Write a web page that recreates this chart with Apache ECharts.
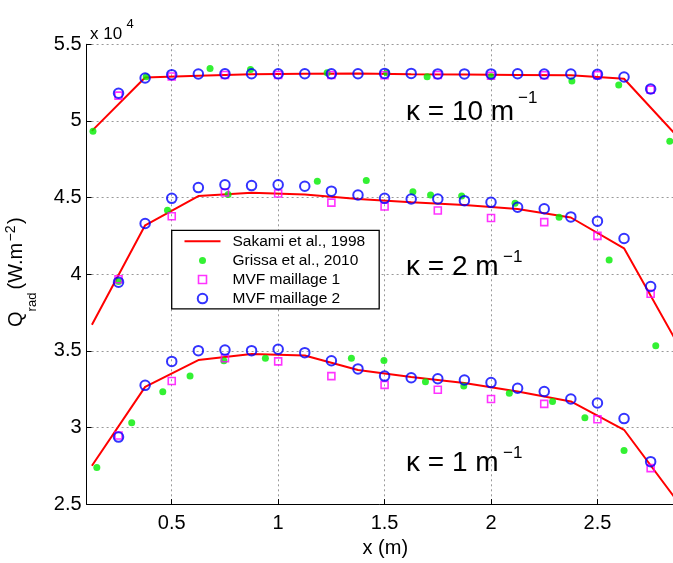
<!DOCTYPE html>
<html>
<head>
<meta charset="utf-8">
<script src="https://cdn.jsdelivr.net/npm/echarts@6/dist/echarts.min.js"></script>
<style>
html,body{margin:0;padding:0;background:#fff;}
#chart{width:673px;height:563px;}
</style>
</head>
<body>
<div id="chart"></div>
<script>
// ---- Data (Q_rad in W.m^-2) ----
const sakamiX = [0.125, 0.375, 0.625, 0.875, 1.125, 1.375, 1.625, 1.875, 2.125, 2.375, 2.625, 2.875];
const sakamiK10 = [49350, 52830, 52950, 53050, 53080, 53100, 53050, 53030, 53000, 52980, 52750, 49000];
const sakamiK2  = [36700, 43190, 45100, 45310, 45200, 44900, 44700, 44520, 44250, 43700, 41690, 35500];
const sakamiK1  = [27500, 32650, 34400, 34800, 34700, 33750, 33300, 32900, 32350, 31700, 29850, 25200];

const grissaK10X = [0.13, 0.38, 0.68, 0.87, 1.23, 1.51, 1.70, 2.00, 2.38, 2.60, 2.84];
const grissaK10  = [49320, 52890, 53420, 53360, 53150, 53150, 52890, 52890, 52610, 52340, 48680];
const grissaK2X  = [0.25, 0.48, 0.765, 1.184, 1.414, 1.633, 1.716, 1.862, 2.113, 2.32, 2.555, 2.774];
const grissaK2   = [39520, 44180, 45200, 46060, 46120, 45380, 45170, 45100, 44630, 43720, 40930, 35330];
const grissaK1X  = [0.148, 0.312, 0.458, 0.586, 0.745, 0.94, 1.344, 1.497, 1.692, 1.872, 2.086, 2.289, 2.441, 2.625];
const grissaK1   = [27390, 30310, 32330, 33350, 34350, 34520, 34520, 34370, 32990, 32710, 32240, 31690, 30640, 28500];

const mvf1X   = [0.25, 0.5, 0.75, 1.0, 1.25, 1.5, 1.75, 2.0, 2.25, 2.5, 2.75];
const mvf1K10 = [51650, 52900, 53000, 53000, 53000, 52980, 53000, 52950, 52980, 52990, 52040];
const mvf1K2  = [39670, 43780, 45330, 45270, 44670, 44420, 44160, 43670, 43400, 42500, 38720];
const mvf1K1  = [29480, 33030, 34520, 34310, 33350, 32780, 32460, 31860, 31540, 30540, 27350];

const mvf2X   = [0.25, 0.375, 0.5, 0.625, 0.75, 0.875, 1.0, 1.125, 1.25, 1.375, 1.5, 1.625, 1.75, 1.875, 2.0, 2.125, 2.25, 2.375, 2.5, 2.625, 2.75];
const mvf2K10 = [51810, 52800, 53020, 53060, 53080, 53080, 53080, 53080, 53080, 53080, 53100, 53100, 53070, 53070, 53070, 53080, 53060, 53060, 53040, 52870, 52080];
const mvf2K2  = [39480, 43310, 44950, 45650, 45840, 45780, 45840, 45740, 45420, 45170, 44950, 44910, 44910, 44800, 44690, 44370, 44270, 43740, 43460, 42330, 39200];
const mvf2K1  = [29370, 32750, 34310, 35010, 35050, 35010, 35100, 34880, 34350, 33820, 33350, 33240, 33180, 33100, 32930, 32560, 32350, 31860, 31600, 30580, 27770];

const yTicks = [25000, 30000, 35000, 40000, 45000, 50000, 55000];

const NAME_SAK = 'Sakami et al., 1998';
const NAME_GRI = 'Grissa et al., 2010';
const NAME_M1 = 'MVF maillage 1';
const NAME_M2 = 'MVF maillage 2';

const FONT = '"Liberation Sans", Arial, Helvetica, sans-serif';
const RED = '#ff0000', GREEN = '#00ee00', MAG = '#ff00ff', BLUE = '#0000ff';

function pts(xs, ys) { return xs.map((x, i) => [x, ys[i]]); }

const sakStyle = (d) => ({ type: 'line', name: NAME_SAK, data: pts(sakamiX, d), symbol: 'none',
  lineStyle: { color: RED, width: 2 }, itemStyle: { color: RED }, silent: true, z: 2 });
const griStyle = (xs, d) => ({ type: 'scatter', name: NAME_GRI, data: pts(xs, d), symbol: 'circle', symbolSize: 7,
  itemStyle: { color: GREEN }, silent: true, z: 2 });
const m1Style = (d) => ({ type: 'scatter', name: NAME_M1, data: pts(mvf1X, d), symbol: 'rect', symbolSize: 7,
  itemStyle: { color: 'rgba(0,0,0,0)', borderColor: MAG, borderWidth: 1.6 }, silent: true, z: 2 });
const m2Style = (d) => ({ type: 'scatter', name: NAME_M2, data: pts(mvf2X, d), symbol: 'circle', symbolSize: 9.5,
  itemStyle: { color: 'rgba(0,0,0,0)', borderColor: BLUE, borderWidth: 2 }, silent: true, z: 2 });

// legend icons: 36 x 11 frame (the two lone moveTo points fix the frame), shape centred in it
const FRAME = 'M0,0 M36,11 ';
const ICON_LINE = 'path://' + FRAME + 'M0,4.5 L36,4.5 L36,6.5 L0,6.5 Z';
const ICON_DOT = 'path://' + FRAME + 'M14.5,5.5 A3.5,3.5 0 1 1 21.5,5.5 A3.5,3.5 0 1 1 14.5,5.5 Z';
const ICON_SQ = 'path://' + FRAME + 'M14,1.5 L22,1.5 L22,9.5 L14,9.5 Z';
const ICON_CIR = 'path://' + FRAME + 'M13.25,5.5 A4.75,4.75 0 1 1 22.75,5.5 A4.75,4.75 0 1 1 13.25,5.5 Z';

const chart = echarts.init(document.getElementById('chart'), null, { renderer: 'canvas' });

const option = {
  animation: false,
  backgroundColor: '#fff',
  grid: { left: 86.6, right: 0, top: 44.3, bottom: 49.5, containLabel: false },
  xAxis: {
    type: 'value', min: 0.1, max: 2.855, minInterval: 0.5, maxInterval: 0.5,
    name: 'x (m)', nameLocation: 'middle', nameGap: 25,
    nameTextStyle: { fontSize: 20, color: '#000', fontFamily: FONT, padding: [0, 0, 0, 11], verticalAlign: 'top' },
    axisLine: { lineStyle: { color: '#000', width: 1 } },
    axisTick: { inside: true, length: 5, lineStyle: { color: '#000' } },
    axisLabel: { fontSize: 20, color: '#000', fontFamily: FONT, margin: 9, showMinLabel: false, showMaxLabel: false },
    splitLine: { show: true, showMinLine: false, showMaxLine: false, lineStyle: { color: '#999', type: [2, 3], width: 1 } }
  },
  yAxis: {
    type: 'value', min: yTicks[0], max: yTicks[yTicks.length - 1], interval: 5000,
    axisLine: { show: true, lineStyle: { color: '#000', width: 1 } },
    axisTick: { show: true, inside: true, length: 5, lineStyle: { color: '#000' } },
    axisLabel: { fontSize: 20, color: '#000', fontFamily: FONT, margin: 5, formatter: v => String(v / 10000) },
    splitLine: { show: true, showMinLine: false, lineStyle: { color: '#999', type: [2, 3], width: 1 } }
  },
  legend: {
    left: 171.7, top: 230.3, orient: 'vertical',
    padding: [3, 14, 2.2, 11.8], itemGap: 3.1,
    itemWidth: 36, itemHeight: 11, selectedMode: false,
    backgroundColor: '#fff', borderColor: '#000', borderWidth: 1.3,
    textStyle: { fontSize: 15.5, color: '#000', fontFamily: FONT, padding: [0, 0, 0, 7] },
    data: [
      { name: NAME_SAK, icon: ICON_LINE, itemStyle: { color: RED, borderWidth: 0 } },
      { name: NAME_GRI, icon: ICON_DOT, itemStyle: { color: GREEN, borderWidth: 0 } },
      { name: NAME_M1, icon: ICON_SQ, itemStyle: { color: 'rgba(0,0,0,0)', borderColor: MAG, borderWidth: 1.6 } },
      { name: NAME_M2, icon: ICON_CIR, itemStyle: { color: 'rgba(0,0,0,0)', borderColor: BLUE, borderWidth: 2 } }
    ]
  },
  series: [
    sakStyle(sakamiK10), sakStyle(sakamiK2), sakStyle(sakamiK1),
    griStyle(grissaK10X, grissaK10), griStyle(grissaK2X, grissaK2), griStyle(grissaK1X, grissaK1),
    m1Style(mvf1K10), m1Style(mvf1K2), m1Style(mvf1K1),
    m2Style(mvf2K10), m2Style(mvf2K2), m2Style(mvf2K1)
  ],
  graphic: [
    // exponent
    { type: 'text', z: 5, x: 90, y: 34, style: { text: 'x 10', font: '17px ' + FONT, fill: '#000', verticalAlign: 'middle', align: 'left' } },
    { type: 'text', z: 5, x: 126.5, y: 24, style: { text: '4', font: '13px ' + FONT, fill: '#000', verticalAlign: 'middle', align: 'left' } },
    // kappa labels
    { type: 'text', z: 5, x: 406, y: 112.5, style: { text: 'κ = 10 m', font: '28px ' + FONT, fill: '#000', verticalAlign: 'middle', align: 'left' } },
    { type: 'text', z: 5, x: 518, y: 98.6, style: { text: '−1', font: '17px ' + FONT, fill: '#000', verticalAlign: 'middle', align: 'left' } },
    { type: 'text', z: 5, x: 406, y: 267, style: { text: 'κ = 2 m', font: '28px ' + FONT, fill: '#000', verticalAlign: 'middle', align: 'left' } },
    { type: 'text', z: 5, x: 503, y: 257, style: { text: '−1', font: '17px ' + FONT, fill: '#000', verticalAlign: 'middle', align: 'left' } },
    { type: 'text', z: 5, x: 406, y: 463.5, style: { text: 'κ = 1 m', font: '28px ' + FONT, fill: '#000', verticalAlign: 'middle', align: 'left' } },
    { type: 'text', z: 5, x: 503, y: 453, style: { text: '−1', font: '17px ' + FONT, fill: '#000', verticalAlign: 'middle', align: 'left' } },
    // y axis label (rotated)
    { type: 'group', x: 16.8, y: 327, rotation: Math.PI / 2, z: 5, children: [
      { type: 'text', x: 0, y: 0, style: { text: 'Q', font: '20px ' + FONT, fill: '#000', verticalAlign: 'middle', align: 'left' } },
      { type: 'text', x: 15.6, y: 16, style: { text: 'rad', font: '13px ' + FONT, fill: '#000', verticalAlign: 'middle', align: 'left' } },
      { type: 'text', x: 37.5, y: 0, style: { text: '(W.m', font: '20px ' + FONT, fill: '#000', verticalAlign: 'middle', align: 'left' } },
      { type: 'text', x: 85.5, y: -6, style: { text: '−2', font: '14px ' + FONT, fill: '#000', verticalAlign: 'middle', align: 'left' } },
      { type: 'text', x: 103, y: 0, style: { text: ')', font: '20px ' + FONT, fill: '#000', verticalAlign: 'middle', align: 'left' } }
    ] }
  ]
};
chart.setOption(option);
</script>
</body>
</html>
